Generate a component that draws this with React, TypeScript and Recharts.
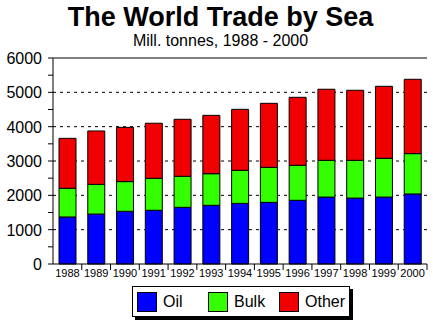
import { BarChart, Bar, XAxis, YAxis, CartesianGrid, ReferenceLine } from "recharts";

const years = ["1988", "1989", "1990", "1991", "1992", "1993", "1994", "1995", "1996", "1997", "1998", "1999", "2000"];
const oil = [1370, 1455, 1535, 1565, 1650, 1710, 1765, 1795, 1855, 1950, 1920, 1950, 2040];
const bulk = [835, 865, 865, 930, 905, 920, 965, 1020, 1020, 1070, 1100, 1130, 1175];
const other = [1455, 1555, 1580, 1605, 1660, 1700, 1775, 1865, 1980, 2070, 2040, 2095, 2165];

const yTicks = [0, 500, 1000, 1500, 2000, 2500, 3000, 3500, 4000, 4500, 5000, 5500, 6000];
const gridValues = [1000, 2000, 3000, 4000, 5000];

const series = [
  { key: "oil", name: "Oil", color: "#0000ff" },
  { key: "bulk", name: "Bulk", color: "#33ff00" },
  { key: "other", name: "Other", color: "#f00000" },
];

const data = years.map((year, i) => ({ year, oil: oil[i], bulk: bulk[i], other: other[i] }));

const FONT = "'Liberation Sans', Arial, sans-serif";
const W = 433;
const H = 325;
const PLOT_TOP = 58;
const PLOT_BOTTOM = 264;
const PLOT_LEFT = 53;
const PLOT_RIGHT = 6;
const STEP = (W - PLOT_LEFT - PLOT_RIGHT) / years.length;

function YearTick({ x, payload }: any) {
  return (
    <g>
      <line x1={x + STEP / 2} x2={x + STEP / 2} y1={PLOT_BOTTOM} y2={PLOT_BOTTOM + 6} stroke="#000" />
      <text x={x} y={PLOT_BOTTOM + 13} textAnchor="middle" fontSize={11} fontFamily={FONT} fill="#000">
        {payload.value}
      </text>
    </g>
  );
}

function ValueTick({ x, y, payload }: any) {
  if (payload.value % 1000 !== 0) return null;
  return (
    <text x={x - 4} y={y} dy={6} textAnchor="end" fontSize={16} fontFamily={FONT} fill="#000">
      {payload.value}
    </text>
  );
}

export default function App() {
  return (
    <div style={{ position: "absolute", left: 0, top: 0, width: W, height: H, background: "#fff", fontFamily: FONT }}>
      <div style={{ position: "absolute", top: 1, left: 4, width: W, textAlign: "center", fontSize: 27, fontWeight: "bold", lineHeight: "32px" }}>
        The World Trade by Sea
      </div>
      <div style={{ position: "absolute", top: 32, left: 4, width: W, textAlign: "center", fontSize: 16, lineHeight: "18px" }}>
        Mill. tonnes, 1988 - 2000
      </div>
      <BarChart
        width={W}
        height={H}
        data={data}
        margin={{ top: PLOT_TOP, right: PLOT_RIGHT, bottom: H - PLOT_BOTTOM - 20, left: 0 }}
        barSize={17}
      >
        <CartesianGrid vertical={false} horizontalValues={gridValues} stroke="#000" strokeDasharray="3 4" />
        <XAxis
          dataKey="year"
          height={20}
          tickLine={false}
          axisLine={{ stroke: "#000" }}
          tick={<YearTick />}
          interval={0}
        />
        <YAxis
          domain={[0, 6000]}
          ticks={yTicks}
          width={PLOT_LEFT}
          tickSize={5}
          tickLine={{ stroke: "#000" }}
          axisLine={{ stroke: "#000" }}
          tick={<ValueTick />}
          interval={0}
        />
        <YAxis yAxisId="right" orientation="right" width={0} tick={false} tickLine={false} axisLine={{ stroke: "#000" }} />
        <ReferenceLine y={6000} stroke="#000" />
        {series.map((s) => (
          <Bar key={s.key} dataKey={s.key} name={s.name} stackId="a" fill={s.color} stroke="#000" strokeWidth={1} isAnimationActive={false} />
        ))}
      </BarChart>
      <div
        style={{
          position: "absolute",
          left: 132,
          top: 286,
          width: 218,
          height: 31,
          border: "1px solid #000",
          boxShadow: "3px 3px 0 #000",
          background: "#fff",
          boxSizing: "border-box",
          display: "flex",
          alignItems: "center",
          paddingLeft: 4,
        }}
      >
        {series.map((s) => (
          <div key={s.key} style={{ display: "flex", alignItems: "center", width: s.key === "other" ? "auto" : 71 }}>
            <div style={{ width: 20, height: 20, background: s.color, border: "1px solid #000", boxSizing: "border-box", marginRight: 6 }} />
            <span style={{ fontSize: 16 }}>{s.name}</span>
          </div>
        ))}
      </div>
    </div>
  );
}
